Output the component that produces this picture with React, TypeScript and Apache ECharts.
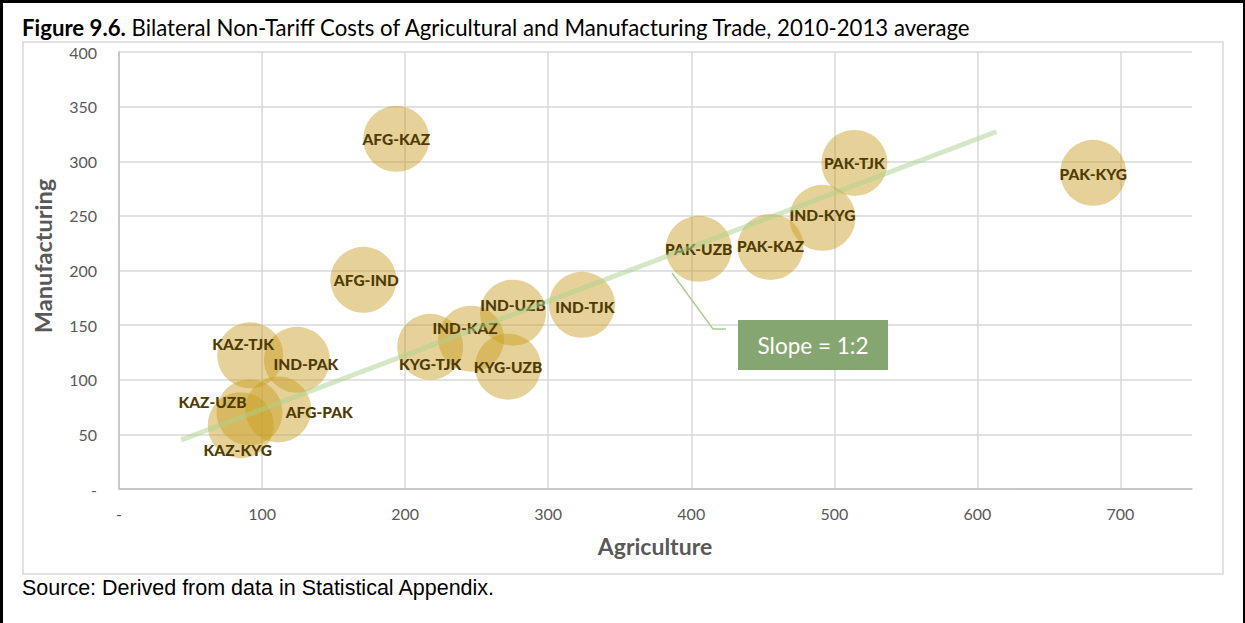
import React, { useEffect, useRef } from "react";
import * as echarts from "echarts";

const pairs = [
  "AFG-KAZ", "AFG-IND", "PAK-TJK", "PAK-KYG", "IND-KYG", "PAK-KAZ", "PAK-UZB",
  "IND-TJK", "IND-UZB", "IND-KAZ", "KYG-TJK", "KYG-UZB", "KAZ-TJK", "IND-PAK",
  "AFG-PAK", "KAZ-UZB", "KAZ-KYG",
];
const agriculture = [
  193.8, 170.8, 514.0, 681.0, 491.7, 455.4, 405.2,
  323.6, 275.4, 246.1, 217.5, 271.9, 91.7, 124.4,
  111.3, 91.2, 85.1,
];
const manufacturing = [
  320.5, 191.5, 298.5, 289.4, 248.2, 221.6, 219.8,
  168.6, 161.4, 137.6, 130.2, 112.0, 122.4, 118.3,
  72.8, 70.1, 58.4,
];
// label offsets in pixels (dx, dy) relative to bubble centre
const labelOffsets: number[][] = [
  [0, 0], [3, 0], [0, 0], [0, 1], [0, -3], [0, -1], [0, 0],
  [3, 2], [0, -8], [-6, -11], [0, 17], [0, 0], [-7, -11], [9, 4],
  [41, 3], [-37, -10], [-3, 25],
];
const trendX = [43.5, 613.2];
const trendY = [45.0, 327.0];
const xTicks = [0, 100, 200, 300, 400, 500, 600, 700];

export default function App() {
  const ref = useRef<HTMLDivElement>(null);
  useEffect(() => {
    if (!ref.current) return;
    const chart = echarts.init(ref.current, null, { renderer: "svg" });
    const font = "Lato, 'Open Sans', sans-serif";
    const bubbleData = pairs.map((n, i) => ({
      name: n,
      value: [agriculture[i], manufacturing[i]],
      label: { offset: labelOffsets[i] },
    }));
    chart.setOption({
      animation: false,
      backgroundColor: "#ffffff",
      grid: { left: 119, right: 53, top: 52, bottom: 134, containLabel: false },
      xAxis: {
        type: "value",
        min: 0,
        max: 750,
        interval: 100,
        axisLine: { show: true, lineStyle: { color: "#bfbfbf", width: 1.5 } },
        axisTick: { show: false },
        axisLabel: {
          color: "#595959",
          fontFamily: font,
          fontSize: 16,
          margin: 16,
          showMaxLabel: false,
          formatter: (v: number) => (v === 0 ? "-" : xTicks.includes(v) ? String(v) : ""),
        },
        splitLine: { show: true, showMaxLine: false, lineStyle: { color: "#d9d9d9", width: 1.5 } },
      },
      yAxis: {
        type: "value",
        min: 0,
        max: 400,
        interval: 50,
        axisLine: { show: true, lineStyle: { color: "#bfbfbf", width: 1.5 } },
        axisTick: { show: false },
        axisLabel: {
          color: "#595959",
          fontFamily: font,
          fontSize: 16,
          margin: 22,
          formatter: (v: number) => (v === 0 ? "-" : String(v)),
        },
        splitLine: { show: true, lineStyle: { color: "#d9d9d9", width: 1.5 } },
      },
      series: [
        {
          type: "scatter",
          symbol: "circle",
          symbolSize: 66,
          z: 2,
          itemStyle: { color: "rgba(199,155,28,0.57)" },
          label: {
            show: true,
            position: "inside",
            formatter: "{b}",
            color: "#4f3b04",
            opacity: 1,
            textBorderWidth: 0,
            textBorderColor: "transparent",
            fontFamily: font,
            fontWeight: 900,
            fontSize: 15.5,
          },
          emphasis: { disabled: true },
          data: bubbleData,
        },
        {
          type: "line",
          z: 3,
          symbol: "none",
          silent: true,
          lineStyle: { color: "rgba(169,209,142,0.5)", width: 5 },
          data: trendX.map((x, i) => [x, trendY[i]]),
        },
      ],
      graphic: [
        // outer black frame (left, top, right)
        { type: "line", shape: { x1: 1.5, y1: 0, x2: 1.5, y2: 623 }, style: { stroke: "#000", lineWidth: 3 } },
        { type: "line", shape: { x1: 0, y1: 1.5, x2: 1245, y2: 1.5 }, style: { stroke: "#000", lineWidth: 3 } },
        { type: "line", shape: { x1: 1244, y1: 0, x2: 1244, y2: 623 }, style: { stroke: "#000", lineWidth: 2 } },
        // chart area border
        {
          type: "rect",
          shape: { x: 23, y: 42, width: 1200, height: 532 },
          style: { fill: "none", stroke: "#d9d9d9", lineWidth: 1.5 },
          z: -1,
        },
        {
          type: "text",
          x: 22,
          y: 27,
          style: {
            text: "{b|Figure 9.6.} Bilateral Non-Tariff Costs of Agricultural and Manufacturing Trade, 2010-2013 average",
            fontFamily: font,
            fontSize: 22.2,
            fill: "#000",
            verticalAlign: "middle",
            rich: {
              b: { fontFamily: font, fontSize: 22.2, fontWeight: "bold", fill: "#000" },
            },
          },
        },
        {
          type: "text",
          x: 655,
          y: 546,
          style: {
            text: "Agriculture",
            fontFamily: font,
            fontSize: 23,
            fontWeight: "bold",
            fill: "#595959",
            align: "center",
            verticalAlign: "middle",
          },
        },
        {
          type: "text",
          x: 43,
          y: 256,
          rotation: Math.PI / 2,
          style: {
            text: "Manufacturing",
            fontFamily: font,
            fontSize: 23.5,
            fontWeight: "bold",
            fill: "#595959",
            align: "center",
            verticalAlign: "middle",
          },
        },
        {
          type: "text",
          x: 22,
          y: 588,
          style: {
            text: "Source: Derived from data in Statistical Appendix.",
            fontFamily: "'Liberation Sans', Arial, sans-serif",
            fontSize: 21.5,
            fill: "#000",
            verticalAlign: "middle",
          },
        },
        // callout
        {
          type: "polyline",
          shape: { points: [[672, 273], [713, 329], [726, 329]] },
          style: { stroke: "#a9d18e", lineWidth: 1.5, fill: "none" },
          z: 10,
        },
        {
          type: "rect",
          shape: { x: 738, y: 320, width: 150, height: 50 },
          style: { fill: "#85a670" },
          z: 10,
        },
        {
          type: "text",
          x: 813,
          y: 345,
          z: 11,
          style: {
            text: "Slope = 1:2",
            fontFamily: font,
            fontSize: 22.5,
            fill: "#ffffff",
            align: "center",
            verticalAlign: "middle",
          },
        },
      ],
    });
    return () => chart.dispose();
  }, []);
  return (
    <div
      ref={ref}
      style={{ position: "fixed", left: 0, top: 0, width: 1245, height: 623, background: "#fff" }}
    />
  );
}
